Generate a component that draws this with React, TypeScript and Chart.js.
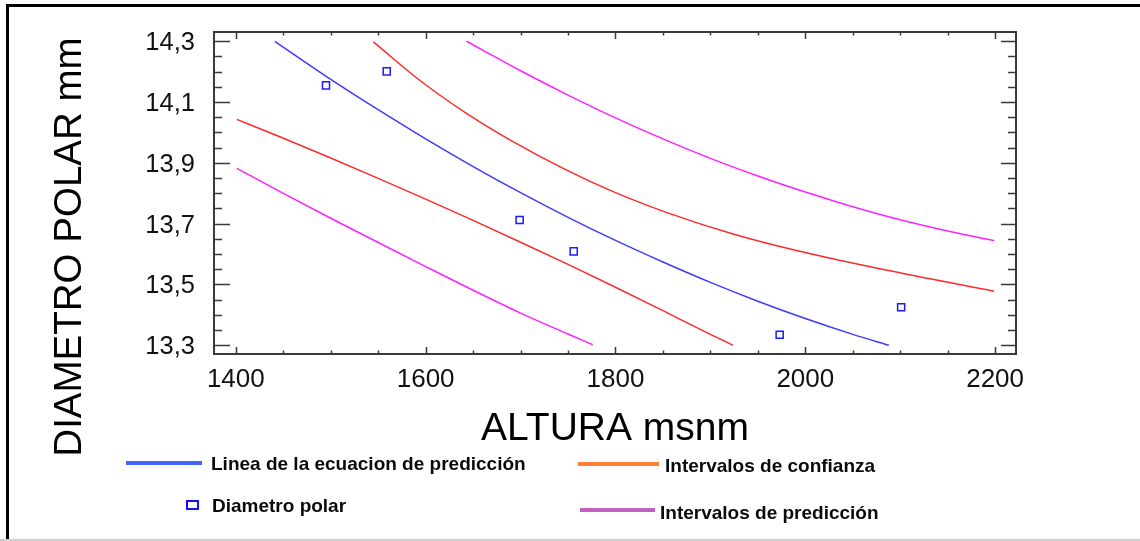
import React, { useEffect, useRef } from "react";
import { Chart, registerables } from "chart.js";

Chart.register(...registerables);

// ---- axes ----
const X_MIN = 1377;
const X_MAX = 2222;
const Y_MIN = 13.2714;
const Y_MAX = 14.3305;
const xTickLabels = [1400, 1600, 1800, 2000, 2200];
const xMinorStep = 50;
const yTickLabels = [13.3, 13.5, 13.7, 13.9, 14.1, 14.3];
const yMinorStep = 0.05;
const xTitle = "ALTURA msnm";
const yTitle = "DIAMETRO POLAR mm";

// ---- series ----
const fitX = [1441, 1500, 1550, 1600, 1650, 1700, 1750, 1800, 1850, 1900, 1950, 2000, 2050, 2088];
const fitY = [14.3, 14.175, 14.075, 13.979, 13.888, 13.802, 13.721, 13.645, 13.574, 13.507, 13.445, 13.388, 13.336, 13.3];

const confUpperX = [1545, 1594, 1643, 1692, 1748, 1800, 1852, 1923, 1993, 2081, 2199];
const confUpperY = [14.298, 14.171, 14.063, 13.97, 13.877, 13.802, 13.739, 13.667, 13.61, 13.55, 13.478];

const confLowerX = [1401, 1447, 1500, 1550, 1600, 1650, 1700, 1750, 1800, 1850, 1900, 1924];
const confLowerY = [14.043, 13.985, 13.916, 13.849, 13.781, 13.711, 13.639, 13.566, 13.491, 13.414, 13.336, 13.3];

const predUpperX = [1643, 1700, 1750, 1800, 1850, 1900, 1950, 2000, 2050, 2100, 2150, 2199];
const predUpperY = [14.3, 14.203, 14.123, 14.048, 13.979, 13.915, 13.857, 13.804, 13.756, 13.713, 13.676, 13.644];

const predLowerX = [1401, 1450, 1500, 1550, 1600, 1650, 1700, 1750, 1776];
const predLowerY = [13.882, 13.8, 13.718, 13.638, 13.559, 13.481, 13.406, 13.337, 13.302];

const pointsX = [1495, 1559, 1699, 1756, 1973, 2101];
const pointsY = [14.155, 14.201, 13.712, 13.609, 13.335, 13.425];

const legendLabels = [
  "Linea de la ecuacion de predicción",
  "Diametro polar",
  "Intervalos de confianza",
  "Intervalos de predicción",
];

const FONT = "'Liberation Sans', Arial, sans-serif";

const zip = (xs: number[], ys: number[]) => xs.map((x, i) => ({ x, y: ys[i] }));

const fmt = (v: number) => v.toFixed(1).replace(".", ",");

const decorPlugin = {
  id: "decor",
  beforeDraw(chart: any) {
    const ctx = chart.ctx;
    ctx.save();
    ctx.fillStyle = "#ffffff";
    ctx.fillRect(0, 0, chart.width, chart.height);
    ctx.restore();
  },
  afterDraw(chart: any) {
    const ctx = chart.ctx as CanvasRenderingContext2D;
    const { left, right, top, bottom } = chart.chartArea;
    const xs = chart.scales.x;
    const ys = chart.scales.y;
    ctx.save();

    // outer frame
    ctx.strokeStyle = "#000000";
    ctx.lineWidth = 3;
    ctx.beginPath();
    ctx.moveTo(7.5, 541);
    ctx.lineTo(7.5, 5.5);
    ctx.lineTo(1140, 5.5);
    ctx.stroke();
    ctx.strokeStyle = "#cfcfcf";
    ctx.lineWidth = 2;
    ctx.beginPath();
    ctx.moveTo(0, 540);
    ctx.lineTo(1140, 540);
    ctx.stroke();

    // plot frame
    ctx.strokeStyle = "#3a3a3a";
    ctx.lineWidth = 2;
    ctx.strokeRect(left, top, right - left, bottom - top);

    // ticks
    ctx.lineWidth = 1.5;
    ctx.beginPath();
    const yStart = yTickLabels[0];
    const yEnd = yTickLabels[yTickLabels.length - 1];
    const nY = Math.round((yEnd - yStart) / yMinorStep);
    for (let k = 0; k <= nY; k++) {
      const v = yStart + k * yMinorStep;
      const py = Math.round(ys.getPixelForValue(v)) + 0.5;
      const major = yTickLabels.some((t) => Math.abs(t - v) < 1e-6);
      const lenL = major ? 16 : 8;
      const lenR = major ? 15 : 8;
      ctx.moveTo(left, py);
      ctx.lineTo(left + lenL, py);
      ctx.moveTo(right, py);
      ctx.lineTo(right - lenR, py);
    }
    const xStart = xTickLabels[0];
    const xEnd = xTickLabels[xTickLabels.length - 1];
    const nX = Math.round((xEnd - xStart) / xMinorStep);
    for (let k = 0; k <= nX; k++) {
      const v = xStart + k * xMinorStep;
      const px = Math.round(xs.getPixelForValue(v)) + 0.5;
      const major = xTickLabels.includes(v);
      const len = major ? 7 : 3.5;
      ctx.moveTo(px, bottom);
      ctx.lineTo(px, bottom - len);
      ctx.moveTo(px, top);
      ctx.lineTo(px, top + len);
    }
    ctx.stroke();

    // tick labels
    ctx.fillStyle = "#111111";
    ctx.font = `25.5px ${FONT}`;
    ctx.textAlign = "right";
    ctx.textBaseline = "alphabetic";
    yTickLabels.forEach((v) => {
      const py = ys.getPixelForValue(v);
      ctx.fillText(fmt(v), 195, py + 9);
    });
    ctx.font = `26px ${FONT}`;
    ctx.textAlign = "center";
    xTickLabels.forEach((v) => {
      const px = xs.getPixelForValue(v);
      ctx.fillText(String(v), px, 387);
    });

    // axis titles
    ctx.fillStyle = "#000000";
    ctx.font = `39px ${FONT}`;
    ctx.textAlign = "center";
    ctx.fillText(xTitle, 615, 440);
    ctx.save();
    ctx.translate(81, 247);
    ctx.rotate(-Math.PI / 2);
    ctx.font = `38.5px ${FONT}`;
    ctx.fillText(yTitle, 0, 0);
    ctx.restore();

    // legend
    ctx.lineCap = "butt";
    ctx.lineWidth = 4;
    ctx.strokeStyle = "#4466ff";
    ctx.beginPath();
    ctx.moveTo(126, 463);
    ctx.lineTo(202, 463);
    ctx.stroke();
    ctx.strokeStyle = "#ff8030";
    ctx.beginPath();
    ctx.moveTo(578, 464);
    ctx.lineTo(659, 464);
    ctx.stroke();
    ctx.strokeStyle = "#c060c0";
    ctx.beginPath();
    ctx.moveTo(580, 510);
    ctx.lineTo(655, 510);
    ctx.stroke();
    ctx.strokeStyle = "#1010ff";
    ctx.lineWidth = 2;
    ctx.strokeRect(187, 501, 11, 8);

    ctx.fillStyle = "#0a0a0a";
    ctx.font = `bold 19px ${FONT}`;
    ctx.textAlign = "left";
    ctx.textBaseline = "alphabetic";
    ctx.fillText(legendLabels[0], 211, 470);
    ctx.fillText(legendLabels[1], 212, 512);
    ctx.fillText(legendLabels[2], 665, 472);
    ctx.fillText(legendLabels[3], 660, 519);

    ctx.restore();
  },
};

export default function App() {
  const canvasRef = useRef<HTMLCanvasElement | null>(null);

  useEffect(() => {
    const canvas = canvasRef.current;
    if (!canvas) return;
    const lineDs = (label: string, xs: number[], ys: number[], color: string) => ({
      type: "scatter" as const,
      label,
      data: zip(xs, ys),
      showLine: true,
      borderColor: color,
      backgroundColor: color,
      borderWidth: 1.5,
      pointRadius: 0,
      cubicInterpolationMode: "monotone" as const,
      fill: false,
    });
    const chart = new Chart(canvas, {
      type: "scatter",
      data: {
        datasets: [
          lineDs("Linea de la ecuacion de predicción", fitX, fitY, "#3c3cff"),
          lineDs("Intervalos de confianza (sup)", confUpperX, confUpperY, "#ff2a2a"),
          lineDs("Intervalos de confianza (inf)", confLowerX, confLowerY, "#ff2a2a"),
          lineDs("Intervalos de predicción (sup)", predUpperX, predUpperY, "#ff22ff"),
          lineDs("Intervalos de predicción (inf)", predLowerX, predLowerY, "#ff22ff"),
          {
            type: "scatter" as const,
            label: "Diametro polar",
            data: zip(pointsX, pointsY),
            pointStyle: "rect",
            pointRadius: 5,
            pointBorderWidth: 1.5,
            borderColor: "#1a1aff",
            backgroundColor: "rgba(255,255,255,0)",
            showLine: false,
          } as any,
        ],
      },
      options: {
        animation: false,
        responsive: false,
        devicePixelRatio: 1,
        layout: { padding: { left: 214, top: 32, right: 124, bottom: 187 } },
        plugins: { legend: { display: false }, tooltip: { enabled: false } },
        scales: {
          x: { type: "linear", min: X_MIN, max: X_MAX, display: false },
          y: { type: "linear", min: Y_MIN, max: Y_MAX, display: false },
        },
      },
      plugins: [decorPlugin],
    } as any);
    return () => chart.destroy();
  }, []);

  return (
    <div style={{ position: "fixed", left: 0, top: 0, width: 1140, height: 541, background: "#fff" }}>
      <canvas ref={canvasRef} width={1140} height={541} style={{ display: "block" }} />
    </div>
  );
}
